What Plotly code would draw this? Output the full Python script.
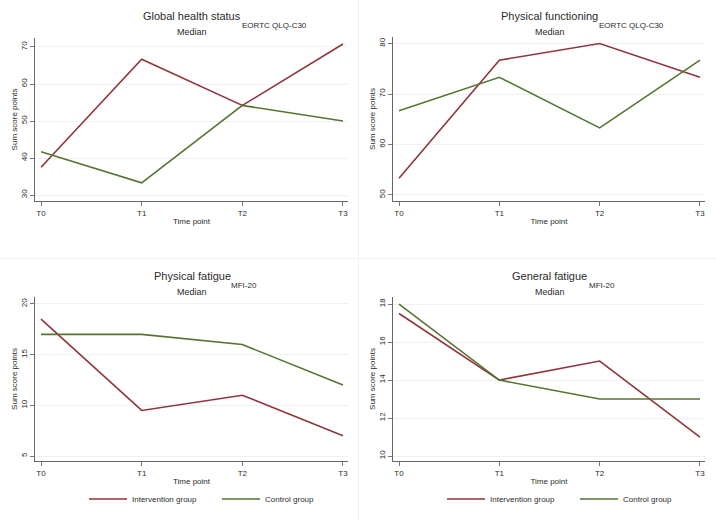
import plotly.graph_objects as go

# ---------------- data ----------------
timepoints = ["T0", "T1", "T2", "T3"]
x_idx = [0, 1, 2, 3]

ghs_intervention = [37.5, 66.7, 54.2, 70.8]
ghs_control = [41.7, 33.3, 54.2, 50.0]

pf_intervention = [53.3, 76.7, 80.0, 73.3]
pf_control = [66.7, 73.3, 63.3, 76.7]

phf_intervention = [18.5, 9.5, 11.0, 7.0]
phf_control = [17.0, 17.0, 16.0, 12.0]

gf_intervention = [17.5, 14.0, 15.0, 11.0]
gf_control = [18.0, 14.0, 13.0, 13.0]

panel_titles = ["Global health status", "Physical functioning", "Physical fatigue", "General fatigue"]
panel_subs = ["EORTC QLQ-C30", "EORTC QLQ-C30", "MFI-20", "MFI-20"]
panel_ticks = [[30, 40, 50, 60, 70], [50, 60, 70, 80], [5, 10, 15, 20], [10, 12, 14, 16, 18]]
panel_ranges = [[28.38, 72.43], [48.81, 81.29], [4.51, 20.69], [9.74, 18.37]]
series_names = ["Intervention group", "Control group"]

# ---------------- style ----------------
W, H = 716, 520
RED = "#90353B"
GREEN = "#55752F"
TXT = "#2b2b2b"
FONT = "Liberation Sans, Arial, sans-serif"


def px(x):
    return x / W


def py(y):
    return 1 - y / H


# panel pixel boxes (left, right, top, bottom)
boxes = [(35, 348, 38, 201), (393, 705, 37, 201), (35, 348, 297, 461), (393, 705, 297, 461)]
data = [(ghs_intervention, ghs_control), (pf_intervention, pf_control),
        (phf_intervention, phf_control), (gf_intervention, gf_control)]

fig = go.Figure()
layout = dict(
    width=W, height=H, margin=dict(l=0, r=0, t=0, b=0),
    paper_bgcolor="white", plot_bgcolor="white",
    font=dict(family=FONT, color=TXT, size=8),
    annotations=[], shapes=[],
)

for i, (box, (ser_a, ser_b)) in enumerate(zip(boxes, data)):
    n = "" if i == 0 else str(i + 1)
    l, r, t, b = box
    legend_name = "legend" if i == 2 else ("legend2" if i == 3 else None)
    for vals, name, col in ((ser_a, series_names[0], RED), (ser_b, series_names[1], GREEN)):
        tr = dict(x=x_idx, y=vals, mode="lines", name=name,
                  line=dict(color=col, width=1.6),
                  xaxis="x" + n, yaxis="y" + n,
                  showlegend=legend_name is not None, hoverinfo="x+y+name")
        if legend_name:
            tr["legend"] = legend_name
        fig.add_trace(go.Scatter(**tr))

    layout["xaxis" + n] = dict(
        domain=[px(l), px(r)], anchor="y" + n, range=[-0.06, 3.05],
        tickmode="array", tickvals=x_idx, ticktext=timepoints,
        ticks="outside", ticklen=4, tickcolor="#777777", tickwidth=1,
        showline=True, linecolor="#666666", linewidth=1, showgrid=False, zeroline=False,
        tickfont=dict(size=8, color=TXT),
        title=dict(text="Time point", font=dict(size=8, color=TXT), standoff=1),
    )
    layout["yaxis" + n] = dict(
        domain=[py(b), py(t)], anchor="x" + n, range=panel_ranges[i],
        tickmode="array", tickvals=panel_ticks[i], tickangle=-90,
        ticks="outside", ticklen=4, tickcolor="#777777", tickwidth=1,
        showline=True, linecolor="#666666", linewidth=1,
        showgrid=True, gridcolor="#EEF0F1", gridwidth=1, zeroline=False,
        tickfont=dict(size=8, color=TXT),
        title=dict(text="Sum score points", font=dict(size=8, color=TXT), standoff=0),
    )
    cx = (l + r) / 2 + 0.5
    ty = 16 if i < 2 else 276
    layout["annotations"].append(dict(
        x=px(cx), y=py(ty), xref="paper", yref="paper", xanchor="center", yanchor="middle",
        text=panel_titles[i], showarrow=False, font=dict(size=11, color=TXT)))
    layout["annotations"].append(dict(
        x=px(cx), y=py(ty + 16), xref="paper", yref="paper", xanchor="center", yanchor="middle",
        text="Median", showarrow=False, font=dict(size=9, color=TXT)))
    sub_x = [240, 597, 229, 587][i]
    layout["annotations"].append(dict(
        x=px(sub_x), y=py(ty + 9), xref="paper", yref="paper", xanchor="left", yanchor="middle",
        text=panel_subs[i], showarrow=False, font=dict(size=8, color=TXT)))

# faint panel separators
layout["shapes"].append(dict(type="line", xref="paper", yref="paper", x0=px(358.5), x1=px(358.5), y0=0, y1=1,
                             line=dict(color="#F2F2F2", width=1)))
layout["shapes"].append(dict(type="line", xref="paper", yref="paper", x0=0, x1=1, y0=py(258.5), y1=py(258.5),
                             line=dict(color="#F2F2F2", width=1)))

leg_common = dict(orientation="h", yanchor="middle", xanchor="left", bgcolor="rgba(0,0,0,0)",
                  font=dict(size=8, color=TXT), itemwidth=38, entrywidth=80, entrywidthmode="pixels",
                  tracegroupgap=0)
layout["legend"] = dict(x=px(84), y=py(499), **leg_common)
layout["legend2"] = dict(x=px(442), y=py(499), **leg_common)

fig.update_layout(**layout)
fig.write_html("out.html", config={"displayModeBar": False},
               post_script="document.body.style.margin='0px';document.body.style.overflow='hidden';")
